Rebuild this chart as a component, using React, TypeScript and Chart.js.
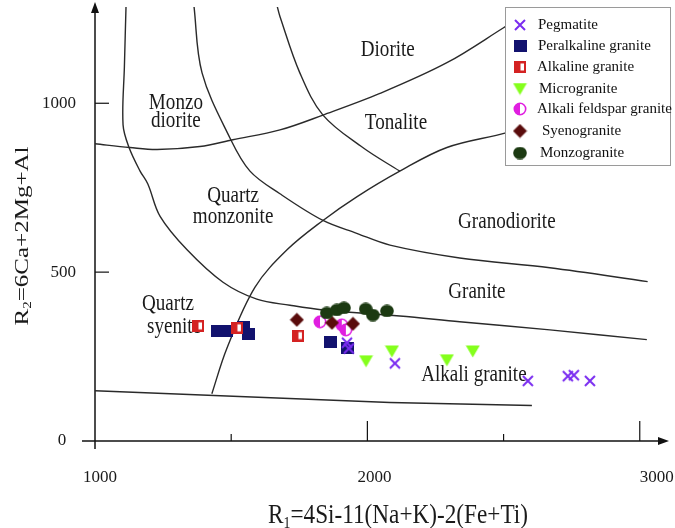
import React, { useEffect, useRef } from 'react';
import { Chart, registerables } from 'chart.js';

Chart.register(...registerables);

// ---- sample data (R1, R2) ----
const pegmatite = [
  { x: 1925, y: 291 }, { x: 1932, y: 274 }, { x: 2101, y: 230 }, { x: 2589, y: 178 },
  { x: 2736, y: 192 }, { x: 2758, y: 195 }, { x: 2817, y: 178 },
];
const peralkalineGranite = [
  { x: 1451, y: 327 }, { x: 1481, y: 327 }, { x: 1547, y: 338 }, { x: 1565, y: 318 },
  { x: 1866, y: 292 }, { x: 1928, y: 274 },
];
const alkalineGranite = [{ x: 1378, y: 341 }, { x: 1521, y: 335 }, { x: 1745, y: 312 }];
const microgranite = [{ x: 1995, y: 236 }, { x: 2090, y: 265 }, { x: 2292, y: 239 }, { x: 2387, y: 265 }];
const alkaliFeldsparGranite = [{ x: 1826, y: 353 }, { x: 1906, y: 344 }, { x: 1921, y: 329 }];
const syenogranite = [{ x: 1741, y: 359 }, { x: 1870, y: 350 }, { x: 1947, y: 347 }];
const monzogranite = [
  { x: 1851, y: 379 }, { x: 1888, y: 388 }, { x: 1914, y: 394 }, { x: 1994, y: 391 },
  { x: 2020, y: 373 }, { x: 2072, y: 385 },
];

// ---- field boundaries ----
const boundaryA = [
  { x: 1114, y: 1290 }, { x: 1108, y: 1110 }, { x: 1103, y: 936 }, { x: 1125, y: 869 },
  { x: 1165, y: 800 }, { x: 1194, y: 761 }, { x: 1239, y: 665 }, { x: 1338, y: 566 },
  { x: 1470, y: 470 }, { x: 1594, y: 420 }, { x: 1716, y: 402 }, { x: 1837, y: 388 },
  { x: 2119, y: 370 }, { x: 2339, y: 353 }, { x: 2670, y: 329 }, { x: 3026, y: 300 },
];
const boundaryB = [
  { x: 1363, y: 1290 }, { x: 1393, y: 1090 }, { x: 1495, y: 898 }, { x: 1569, y: 799 },
  { x: 1679, y: 732 }, { x: 1837, y: 653 }, { x: 1961, y: 615 }, { x: 2083, y: 580 },
  { x: 2339, y: 542 }, { x: 2670, y: 513 }, { x: 3029, y: 472 },
];
const boundaryC = [
  { x: 1668, y: 1290 }, { x: 1679, y: 1257 }, { x: 1752, y: 1090 }, { x: 1837, y: 965 },
  { x: 1983, y: 869 }, { x: 2119, y: 799 },
];
const boundaryD = [
  { x: 1429, y: 140 }, { x: 1484, y: 274 }, { x: 1587, y: 455 }, { x: 1705, y: 566 },
  { x: 1837, y: 653 }, { x: 1961, y: 723 }, { x: 2119, y: 799 }, { x: 2292, y: 869 },
  { x: 2512, y: 913 }, { x: 2800, y: 985 },
];
const boundaryE = [
  { x: 1000, y: 880 }, { x: 1128, y: 869 }, { x: 1228, y: 863 }, { x: 1385, y: 872 },
  { x: 1506, y: 892 }, { x: 1679, y: 921 }, { x: 1837, y: 965 }, { x: 2046, y: 1029 },
  { x: 2292, y: 1120 }, { x: 2497, y: 1222 }, { x: 2530, y: 1240 },
];
const boundaryF = [{ x: 1000, y: 149 }, { x: 2083, y: 114 }, { x: 2604, y: 105 }];

// ---- field names ----
const fieldNames = ['Diorite', 'Monzo', 'diorite', 'Tonalite', 'Quartz', 'monzonite', 'Granodiorite', 'Granite', 'Quartz', 'Alkali granite'];
const fieldX = [2075, 1297, 1297, 2105, 1507, 1507, 2512, 2402, 1268, 2391];
const fieldY = [1157, 1002, 947, 941, 726, 664, 650, 440, 405, 195];
const syeniteLabel = 'syenite';
const syeniteX = 1191;
const syeniteY = 338;

// ---- axes ----
const xTickValues = [1000, 2000, 3000];
const xTickLabels = ['1000', '2000', '3000'];
const xMinorTicks = [1500, 2500];
const yTickValues = [0, 500, 1000];
const yTickLabels = ['0', '500', '1000'];

const seriesNames = ['Pegmatite', 'Peralkaline granite', 'Alkaline granite', 'Microgranite', 'Alkali feldspar granite', 'Syenogranite', 'Monzogranite'];

const SERIF = "'Liberation Serif', 'Times New Roman', serif";
const SQ = 0.83;

function mk(w: number, h: number, fn: (c: CanvasRenderingContext2D) => void) {
  const cv = document.createElement('canvas');
  cv.width = w;
  cv.height = h;
  const c = cv.getContext('2d')!;
  fn(c);
  return cv;
}

function makeMarkers() {
  const cross = mk(14, 14, (c) => {
    c.strokeStyle = '#7a2cf0';
    c.lineWidth = 2;
    c.beginPath();
    c.moveTo(2, 2); c.lineTo(12, 12);
    c.moveTo(12, 2); c.lineTo(2, 12);
    c.stroke();
  });
  const square = mk(13, 12, (c) => {
    c.fillStyle = '#12126e';
    c.fillRect(0, 0, 13, 12);
  });
  const halfSquare = mk(12, 12, (c) => {
    c.fillStyle = '#d42222';
    c.fillRect(0, 0, 12, 12);
    c.fillStyle = '#ffffff';
    c.fillRect(6.5, 2.5, 3.5, 7);
  });
  const tri = mk(15, 13, (c) => {
    c.fillStyle = '#84ff1c';
    c.beginPath();
    c.moveTo(0.5, 0.5); c.lineTo(14.5, 0.5); c.lineTo(7.5, 12.5);
    c.closePath();
    c.fill();
  });
  const halfCircle = mk(14, 14, (c) => {
    c.strokeStyle = '#e01ee0';
    c.fillStyle = '#ffffff';
    c.lineWidth = 1.6;
    c.beginPath();
    c.arc(7, 7, 5.7, 0, Math.PI * 2);
    c.fill();
    c.stroke();
    c.fillStyle = '#e01ee0';
    c.beginPath();
    c.arc(7, 7, 5.7, Math.PI / 2, (Math.PI * 3) / 2);
    c.closePath();
    c.fill();
  });
  const diamond = mk(15, 15, (c) => {
    c.fillStyle = '#5a0c0c';
    c.beginPath();
    c.moveTo(7.5, 0.5); c.lineTo(14.5, 7.5); c.lineTo(7.5, 14.5); c.lineTo(0.5, 7.5);
    c.closePath();
    c.fill();
  });
  const circle = mk(14, 13, (c) => {
    c.fillStyle = '#1c3a12';
    c.beginPath();
    c.ellipse(7, 6.5, 6.8, 6.3, 0, 0, Math.PI * 2);
    c.fill();
  });
  return [cross, square, halfSquare, tri, halfCircle, diamond, circle];
}

function sqText(ctx: CanvasRenderingContext2D, s: string, x: number, y: number, size: number, align: CanvasTextAlign = 'center', sx = SQ) {
  ctx.save();
  ctx.font = `${size}px ${SERIF}`;
  ctx.textAlign = align;
  ctx.textBaseline = 'middle';
  ctx.translate(x, y);
  ctx.scale(sx, 1);
  ctx.fillText(s, 0, 0);
  ctx.restore();
}

function subTitle(ctx: CanvasRenderingContext2D, main: string, sub: string, rest: string, size: number) {
  const subSize = Math.round(size * 0.6);
  ctx.font = `${size}px ${SERIF}`;
  const w1 = ctx.measureText(main).width;
  const w3 = ctx.measureText(rest).width;
  ctx.font = `${subSize}px ${SERIF}`;
  const w2 = ctx.measureText(sub).width;
  const total = w1 + w2 + w3;
  let x = -total / 2;
  ctx.textAlign = 'left';
  ctx.textBaseline = 'alphabetic';
  const base = size * 0.33;
  ctx.font = `${size}px ${SERIF}`;
  ctx.fillText(main, x, base);
  x += w1;
  ctx.font = `${subSize}px ${SERIF}`;
  ctx.fillText(sub, x, base + size * 0.2);
  x += w2;
  ctx.font = `${size}px ${SERIF}`;
  ctx.fillText(rest, x, base);
}

export default function App() {
  const ref = useRef<HTMLCanvasElement | null>(null);

  useEffect(() => {
    if (!ref.current) return;
    const markers = makeMarkers();
    const seriesData = [pegmatite, peralkalineGranite, alkalineGranite, microgranite, alkaliFeldsparGranite, syenogranite, monzogranite];
    // drawing order: first dataset is drawn on top
    const topOrder = [0, 6, 5, 4, 3, 2, 1];
    const pointSets = topOrder.map((i) => ({
      label: seriesNames[i],
      data: seriesData[i],
      pointStyle: markers[i] as any,
      pointRadius: 6,
      pointHoverRadius: 6,
      showLine: false,
    }));
    const lineSets = [boundaryA, boundaryB, boundaryC, boundaryD, boundaryE, boundaryF].map((d, i) => ({
      label: 'b' + i,
      data: d,
      showLine: true,
      pointRadius: 0,
      borderColor: '#2a2a2a',
      borderWidth: 1.4,
      tension: i === 5 ? 0 : 0.35,
      fill: false,
    }));

    const decor = {
      id: 'decor',
      beforeDatasetsDraw(chart: any) {
        const ctx: CanvasRenderingContext2D = chart.ctx;
        const xs = chart.scales.x;
        const ys = chart.scales.y;
        const x0 = xs.getPixelForValue(1000);
        const y0 = ys.getPixelForValue(0);
        ctx.save();
        ctx.fillStyle = '#ffffff';
        ctx.fillRect(0, 0, chart.width, chart.height);
        ctx.strokeStyle = '#111';
        ctx.fillStyle = '#111';
        ctx.lineWidth = 1.5;
        // x axis
        ctx.beginPath();
        ctx.moveTo(82, y0);
        ctx.lineTo(660, y0);
        ctx.stroke();
        ctx.beginPath();
        ctx.moveTo(669, y0);
        ctx.lineTo(658, y0 - 4);
        ctx.lineTo(658, y0 + 4);
        ctx.closePath();
        ctx.fill();
        // y axis
        ctx.beginPath();
        ctx.moveTo(x0, y0 + 8);
        ctx.lineTo(x0, 10);
        ctx.stroke();
        ctx.beginPath();
        ctx.moveTo(x0, 2);
        ctx.lineTo(x0 - 4, 13);
        ctx.lineTo(x0 + 4, 13);
        ctx.closePath();
        ctx.fill();
        // ticks
        ctx.lineWidth = 1.2;
        xTickValues.forEach((v) => {
          if (v === 1000) return;
          const px = xs.getPixelForValue(v);
          ctx.beginPath();
          ctx.moveTo(px, y0);
          ctx.lineTo(px, y0 - 20);
          ctx.stroke();
        });
        xMinorTicks.forEach((v) => {
          const px = xs.getPixelForValue(v);
          ctx.beginPath();
          ctx.moveTo(px, y0);
          ctx.lineTo(px, y0 - 7);
          ctx.stroke();
        });
        yTickValues.forEach((v) => {
          if (v === 0) return;
          const py = ys.getPixelForValue(v);
          ctx.beginPath();
          ctx.moveTo(x0, py);
          ctx.lineTo(x0 + 14, py);
          ctx.stroke();
        });
        // tick labels
        ctx.fillStyle = '#1a1a1a';
        const xOff = [5, 7, 17];
        xTickValues.forEach((v, i) => {
          sqText(ctx, xTickLabels[i], xs.getPixelForValue(v) + xOff[i], 478, 17, 'center', 1);
        });
        yTickValues.forEach((v, i) => {
          const py = ys.getPixelForValue(v);
          if (v === 0) sqText(ctx, yTickLabels[i], 62, py, 17, 'center', 1);
          else sqText(ctx, yTickLabels[i], 76, py, 17, 'right', 1);
        });
        // field names
        fieldNames.forEach((n, i) => {
          sqText(ctx, n, xs.getPixelForValue(fieldX[i]), ys.getPixelForValue(fieldY[i]), 23);
        });
        sqText(ctx, syeniteLabel, xs.getPixelForValue(syeniteX), ys.getPixelForValue(syeniteY), 23, 'left');
        // axis titles
        ctx.save();
        ctx.translate(398, 514);
        ctx.scale(0.86, 1);
        subTitle(ctx, 'R', '1', '=4Si-11(Na+K)-2(Fe+Ti)', 27);
        ctx.restore();
        ctx.save();
        ctx.translate(21, 236);
        ctx.rotate(-Math.PI / 2);
        ctx.scale(1, 0.79);
        subTitle(ctx, 'R', '2', '=6Ca+2Mg+Al', 25);
        ctx.restore();
        ctx.restore();
      },
      afterDatasetsDraw(chart: any) {
        const ctx: CanvasRenderingContext2D = chart.ctx;
        ctx.save();
        ctx.fillStyle = '#ffffff';
        ctx.fillRect(505, 7, 166, 158);
        ctx.strokeStyle = '#9a9a9a';
        ctx.lineWidth = 1;
        ctx.strokeRect(505.5, 7.5, 165, 158);
        const ly = [25, 46, 67, 89, 109, 131, 153];
        const lx = [538, 538, 537, 539, 537, 542, 540];
        seriesNames.forEach((n, i) => {
          const m = markers[i];
          ctx.drawImage(m, 520 - m.width / 2, ly[i] - m.height / 2);
          ctx.fillStyle = '#111';
          ctx.font = `15px ${SERIF}`;
          ctx.textAlign = 'left';
          ctx.textBaseline = 'middle';
          ctx.fillText(n, lx[i], ly[i]);
        });
        ctx.restore();
      },
    };

    const chart = new Chart(ref.current, {
      type: 'scatter',
      data: { datasets: [...pointSets, ...lineSets] as any },
      options: {
        animation: false,
        responsive: false,
        devicePixelRatio: 1,
        layout: { padding: { left: 95, right: 8, top: 0, bottom: 87 } },
        scales: {
          x: { type: 'linear', min: 1000, max: 3100, display: false },
          y: { type: 'linear', min: 0, max: 1285, display: false },
        },
        plugins: {
          legend: { display: false },
          tooltip: { enabled: false },
        },
        events: [],
      },
      plugins: [decor],
    });
    return () => chart.destroy();
  }, []);

  return (
    <div style={{ position: 'absolute', left: 0, top: 0, width: 675, height: 528, background: '#fff' }}>
      <canvas ref={ref} width={675} height={528} style={{ display: 'block', width: 675, height: 528 }} />
    </div>
  );
}
